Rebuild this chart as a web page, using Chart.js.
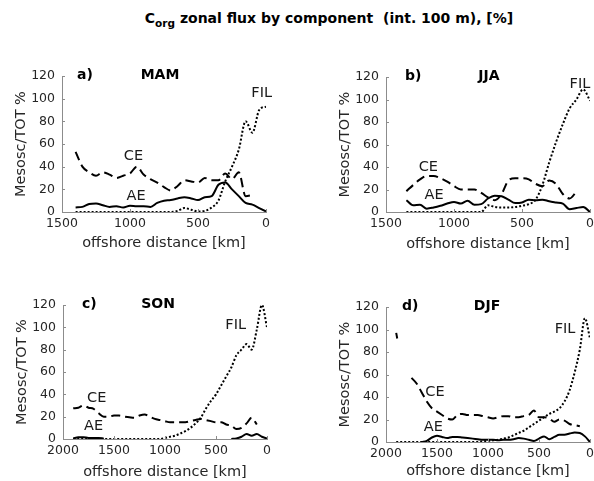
<!DOCTYPE html>
<html>
<head>
<meta charset="utf-8">
<script src="https://cdn.jsdelivr.net/npm/chart.js@4.4.0/dist/chart.umd.min.js"></script>
<style>
  html, body { margin: 0; padding: 0; background: #fff; }
  body { width: 594px; height: 481px; position: relative; overflow: hidden; font-family: 'DejaVu Sans', sans-serif; }
  #title { position: absolute; left: 0; top: 10px; width: 658px; text-align: center; font-weight: bold; font-size: 14px; color: #000; white-space: pre; }
  #title sub { font-size: 10.5px; vertical-align: -4px; }
  canvas { position: absolute; }
</style>
</head>
<body>
<div id="title">C<sub>org</sub> zonal flux by component  (int. 100 m), [%]</div>
<canvas id="chartMAM"></canvas>
<canvas id="chartJJA"></canvas>
<canvas id="chartSON"></canvas>
<canvas id="chartDJF"></canvas>
<script>
// ---- data (km offshore, % of total flux) ----
const distMAM = [1400, 1350, 1300, 1250, 1200, 1150, 1100, 1050, 1000, 950, 900, 850, 800, 750, 700, 650, 600, 550, 500, 450, 400, 350, 300, 250, 200, 150, 100, 50, 0];
const aeMAM  = [4, 4.5, 7, 7.5, 6, 4.5, 5, 4, 5.5, 5, 5, 4.5, 8, 10, 10.5, 12, 13, 12, 10.5, 13, 14, 24, 26, 20, 14, 8, 6.5, 3.5, 0.5];
const ceMAM  = [53, 40, 35, 32, 35, 33, 30, 32, 34, 40, 33, 29, 26, 22, 19, 23, 28, 27, 26, 30, 28, 28, 34, 29, 35, 14, 15, null, null];
const filMAM = [0, 0, 0, 0, 0, 0, 0, 0, 0, 0, 0, 0, 0, 0, 0, 1, 3.5, 2, 0.5, 1, 4, 10, 27, 40, 55, 80, 70, 90, 93];

const distJJA = [1350, 1300, 1250, 1200, 1150, 1100, 1050, 1000, 950, 900, 850, 800, 750, 700, 650, 600, 550, 500, 450, 400, 350, 300, 250, 200, 150, 100, 50, 0];
const aeJJA  = [10.5, 6, 6.5, 3, 4, 5.5, 7.5, 9, 7.5, 10, 6.5, 7, 12, 14.5, 14, 11, 8, 8.5, 11, 10.5, 11, 9.5, 8.5, 7.5, 2.5, 3.5, 4.5, 0];
const ceJJA  = [18.5, 24, 29, 32, 32, 30, 27, 23, 20, 20, 20, 17, 13, 10.5, 16, 28, 30, 30, 29, 25, 23, 28, 25, 16, 12, 18, null, null];
const filJJA = [0, 0, 0, 0, 0, 0, 0, 0, 0, 0, 0, 0, 6, 4.5, 4, 4, 4.5, 5.5, 7, 11, 24, 44, 62, 78, 92, 100, 109, 99];

const distSON = [1900, 1850, 1800, 1750, 1700, 1650, 1600, 1550, 1500, 1450, 1400, 1350, 1300, 1250, 1200, 1150, 1100, 1050, 1000, 950, 900, 850, 800, 750, 700, 650, 600, 550, 500, 450, 400, 350, 300, 250, 200, 150, 100, 50, 0];
const aeSON  = [0.5, 1.5, 1.5, 1, 1, 1, 0.3, null, null, null, null, null, null, null, null, null, null, null, null, null, null, null, null, null, null, null, null, null, null, null, null, 0, 0.5, 2, 4.5, 3, 4.5, 2, 0.5];
const ceSON  = [27.5, 28, 30, 28, 27, 23, 20, 20, 21, 21, 20, 19.5, 19, 21, 22, 20, 18, 17, 16, 15, 15, 15, 15, 16, 17, 18, 17, 16, 15, 15, 13, 12, 9, 10, 14, 19, 13, null, null];
const filSON = [0, 0, 0, 0, 0, 0, 0, 0, 0, 0, 0, 0, 0, 0, 0, 0, 0, 0, 1, 2, 3, 5, 7, 10, 14, 19, 27, 34, 40, 48, 56, 64, 75, 80, 85, 80, 98, 120, 100];

const distDJF = [1900, 1850, 1800, 1750, 1700, 1650, 1600, 1550, 1500, 1450, 1400, 1350, 1300, 1250, 1200, 1150, 1100, 1050, 1000, 950, 900, 850, 800, 750, 700, 650, 600, 550, 500, 450, 400, 350, 300, 250, 200, 150, 100, 50, 0];
const aeDJF  = [null, null, null, null, null, 0, 1, 4, 5.5, 4.5, 3.5, 4.5, 4.5, 4, 3.5, 3, 2.5, 2, 2, 2, 1.5, 2, 2, 2.5, 3.5, 3, 2, 1, 3, 5, 2.5, 4.5, 6.5, 6.5, 7.5, 8.5, 8, 5, 0];
const ceDJF  = [null, null, null, 57, 52, 44, 36, 30, 27, 24, 21, 20, 24, 25, 24, 24, 24, 23, 22, 21, 22, 23, 23, 22, 22, 23, 24, 28, 22, 22, 21, 18, 20, 19, 16, 15, 14, null, null];
const filDJF = [0, 0, 0, 0, 0, 0, 0, 0, 0, 0, 0, 0, 0, 0, 0, 0, 0, 0.5, 1, 1.5, 2, 3, 4, 6, 8, 10, 13, 16, 19, 22, 25, 27, 30, 36, 46, 62, 82, 110, 92];
// short isolated CE piece near 1900 km in DJF
const ceDistDJFedge = [1900, 1890];
const ceDJFedge     = [97, 92];

const yTicks = [0, 20, 40, 60, 80, 100, 120];

// ---- look ----
const AXIS_COLOR = '#8c8c8c';
const TEXT_COLOR = '#262626';
const FONT = "'DejaVu Sans', sans-serif";
const Y_AXIS_W = 49;

Chart.defaults.font.family = FONT;
Chart.defaults.color = TEXT_COLOR;

const pts = (dist, vals) => dist.map((d, i) => ({ x: d, y: vals[i] }));

const lineSet = (label, data, dash) => ({
    label,
    data,
    borderColor: '#000',
    borderWidth: 2,
    borderDash: dash,
    borderCapStyle: 'butt',
    pointRadius: 0,
    fill: false,
    cubicInterpolationMode: 'monotone',
    spanGaps: false
});

// inward ticks, panel letter, season, curve labels
const panelDeco = {
    id: 'panelDeco',
    afterDraw(chart, args, opts) {
        const { ctx, chartArea: a, scales: { x, y } } = chart;
        ctx.save();
        ctx.strokeStyle = AXIS_COLOR;
        ctx.lineWidth = 1;
        ctx.beginPath();
        y.ticks.forEach(t => {
            const py = Math.round(y.getPixelForValue(t.value)) + 0.5;
            ctx.moveTo(a.left, py); ctx.lineTo(a.left + 3, py);
        });
        x.ticks.forEach(t => {
            const px = Math.round(x.getPixelForValue(t.value)) + 0.5;
            ctx.moveTo(px, a.bottom); ctx.lineTo(px, a.bottom - 3);
        });
        ctx.stroke();

        ctx.fillStyle = '#000';
        ctx.font = 'bold 14px ' + FONT;
        ctx.textBaseline = 'middle';
        ctx.textAlign = 'left';
        ctx.fillText(opts.letter, a.left + opts.letterDx, a.top - 1);
        ctx.textAlign = 'center';
        ctx.fillText(opts.season, a.left + opts.seasonDx, a.top - 1);

        ctx.font = '14.5px ' + FONT;
        ctx.fillStyle = '#1a1a1a';
        opts.labels.forEach(l => ctx.fillText(l.text, x.getPixelForValue(l.km), y.getPixelForValue(l.v)));
        ctx.restore();
    }
};

const makePanel = (id, p) => {
    const canvas = document.getElementById(id);
    canvas.width = p.box[2];
    canvas.height = p.box[3];
    canvas.style.left = p.box[0] + 'px';
    canvas.style.top = p.box[1] + 'px';

    const padding = {
        left: p.plot[0] - p.box[0] - Y_AXIS_W,
        top: p.plot[1] - p.box[1],
        right: p.box[0] + p.box[2] - p.plot[2],
        bottom: p.box[1] + p.box[3] - p.plot[3] - p.xAxisH
    };

    const datasets = [
        lineSet('AE', pts(p.dist, p.ae), []),
        lineSet('CE', pts(p.dist, p.ce), [9, 5]),
        lineSet('FIL', pts(p.dist, p.fil), [2, 2])
    ];
    if (p.extra) datasets.push(lineSet('CE', p.extra, [9, 5]));

    return new Chart(canvas, {
        type: 'line',
        data: { datasets },
        plugins: [panelDeco],
        options: {
            responsive: false,
            animation: false,
            layout: { padding },
            plugins: {
                legend: { display: false },
                tooltip: { enabled: false },
                panelDeco: { letter: p.letter, season: p.season, letterDx: p.letterDx, seasonDx: p.seasonDx, labels: p.labels }
            },
            scales: {
                x: {
                    type: 'linear',
                    reverse: true,
                    min: 0,
                    max: p.xMax,
                    grid: { display: false, drawTicks: false },
                    border: { display: true, color: AXIS_COLOR, width: 1 },
                    ticks: { stepSize: 500, color: TEXT_COLOR, font: { size: 12.5 }, padding: 4, maxRotation: 0, callback: v => String(v) },
                    title: { display: true, text: 'offshore distance [km]', color: TEXT_COLOR, font: { size: 14.5, lineHeight: 1.2 }, padding: 0 },
                    afterFit: s => { s.height = p.xAxisH; s.paddingLeft = 0; s.paddingRight = 0; }
                },
                y: {
                    min: 0,
                    max: 120,
                    grid: { display: false, drawTicks: false },
                    border: { display: true, color: AXIS_COLOR, width: 1 },
                    afterBuildTicks: s => { s.ticks = yTicks.map(v => ({ value: v })); },
                    ticks: { color: TEXT_COLOR, font: { size: 12.5 }, padding: 7, callback: v => String(v) },
                    title: { display: true, text: 'Mesosc/TOT %', color: TEXT_COLOR, font: { size: 14.5, lineHeight: 1.2 }, padding: 0 },
                    afterFit: s => { s.width = Y_AXIS_W; s.paddingTop = 0; s.paddingBottom = 0; }
                }
            }
        }
    });
};

makePanel('chartMAM', {
    box: [0, 40, 297, 215], plot: [62, 76, 266, 212], xAxisH: 40, xMax: 1500,
    dist: distMAM, ae: aeMAM, ce: ceMAM, fil: filMAM,
    letter: 'a)', season: 'MAM', letterDx: 15, seasonDx: 98,
    labels: [{ text: 'CE', km: 975, v: 49 }, { text: 'AE', km: 955, v: 13.5 }, { text: 'FIL', km: 32, v: 105 }]
});

makePanel('chartJJA', {
    box: [297, 40, 297, 215], plot: [386, 77, 590, 212], xAxisH: 41, xMax: 1500,
    dist: distJJA, ae: aeJJA, ce: ceJJA, fil: filJJA,
    letter: 'b)', season: 'JJA', letterDx: 19, seasonDx: 103,
    labels: [{ text: 'CE', km: 1189, v: 40 }, { text: 'AE', km: 1147, v: 15 }, { text: 'FIL', km: 74, v: 114 }]
});

makePanel('chartSON', {
    box: [0, 265, 297, 216], plot: [63, 305, 267, 439], xAxisH: 42, xMax: 2000,
    dist: distSON, ae: aeSON, ce: ceSON, fil: filSON,
    letter: 'c)', season: 'SON', letterDx: 19, seasonDx: 95,
    labels: [{ text: 'CE', km: 1670, v: 36.5 }, { text: 'AE', km: 1700, v: 11.5 }, { text: 'FIL', km: 307, v: 102 }]
});

makePanel('chartDJF', {
    box: [297, 265, 297, 216], plot: [386, 307, 590, 442], xAxisH: 38, xMax: 2000,
    dist: distDJF, ae: aeDJF, ce: ceDJF, fil: filDJF, extra: pts(ceDistDJFedge, ceDJFedge),
    letter: 'd)', season: 'DJF', letterDx: 16, seasonDx: 101,
    labels: [{ text: 'CE', km: 1520, v: 44.5 }, { text: 'AE', km: 1536, v: 13.5 }, { text: 'FIL', km: 245, v: 100 }]
});
</script>
</body>
</html>
